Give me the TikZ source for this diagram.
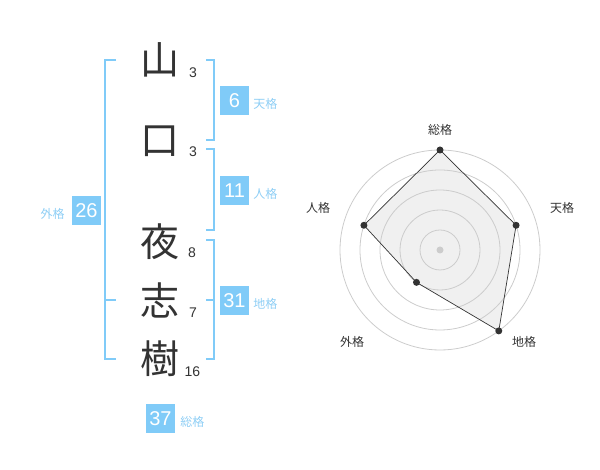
\documentclass[tikz,border=0pt]{standalone}
\usepackage{fontspec}
\setmainfont{Liberation Sans}
\newfontfamily\jp{Noto Sans CJK JP}
\usetikzlibrary{positioning}

\definecolor{boxblue}{HTML}{80CBF8}
\definecolor{lblblue}{HTML}{8ECEF5}
\definecolor{ink}{HTML}{333333}
\definecolor{ringgray}{HTML}{CCCCCC}
\definecolor{webfill}{HTML}{F0F0F0}

\begin{document}
\begin{tikzpicture}[x=1pt, y=1pt,
    kanji/.style={text=ink, inner sep=0, font=\jp\fontsize{39}{39}\selectfont},
    strokes/.style={text=ink, inner sep=0, font=\fontsize{14}{14}\selectfont},
    score/.style={fill=boxblue, text=white, inner sep=0, minimum size=29pt, font=\fontsize{20}{20}\selectfont},
    lbl/.style={text=lblblue, inner sep=0, font=\jp\fontsize{12}{12}\selectfont},
    bracket/.style={draw=boxblue, line width=2pt},
    ringline/.style={draw=ringgray, line width=0.8pt},
    axis/.style={text=ink, inner sep=0, font=\jp\fontsize{12}{12}\selectfont},
    dot/.style={circle, fill=ink, inner sep=0, minimum size=7pt}]

    \useasboundingbox (0,0) rectangle (600,470);

    % Name column
    \node[kanji] (c1) at (160,410) {山};
    \node[kanji] (c2) at (160,329) {口};
    \node[kanji] (c3) at (160,228) {夜};
    \node[kanji] (c4) at (160,170) {志};
    \node[kanji] (c5) at (160,111) {樹};

    % Stroke counts
    \node[strokes] (s1) at (193,397) {3};
    \node[strokes] (s2) at (193,318) {3};
    \node[strokes] (s3) at (192,217) {8};
    \node[strokes] (s4) at (193,157) {7};
    \node[strokes] (s5) at (192.5,98) {16};

    % Brackets
    \draw[bracket] (116,410) -- (105,410) -- (105,111) -- (116,111);
    \draw[bracket] (105,170) -- (116,170);
    \draw[bracket] (206,410) -- (214,410) -- (214,330) -- (206,330);
    \draw[bracket] (206,321) -- (214,321) -- (214,240) -- (206,240);
    \draw[bracket] (206,230) -- (214,230) -- (214,111) -- (206,111);
    \draw[bracket] (206,170) -- (214,170);

    % Score boxes
    \node[score] (b6) at (234.5,369.5) {6};
    \node[score] (b11) at (234.5,279.5) {11};
    \node[score] (b31) at (234.5,169.5) {31};
    \node[score] (b26) at (86.5,259.5) {26};
    \node[score] (b37) at (160.5,51) {37};

    \node[lbl, right=4pt of b6, yshift=-3.5pt] (l6) {天格};
    \node[lbl, right=4pt of b11, yshift=-3.5pt] (l11) {人格};
    \node[lbl, right=4pt of b31, yshift=-3.5pt] (l31) {地格};
    \node[lbl, left=7pt of b26, yshift=-3.5pt] (l26) {外格};
    \node[lbl, right=5pt of b37, yshift=-3pt] (l37) {総格};

    % Radar chart
    \coordinate (o) at (440,220);
    \begin{scope}[shift={(o)}]
        \coordinate (w1) at (90:100);
        \coordinate (w2) at (18:80);
        \coordinate (w3) at (-54:100);
        \coordinate (w4) at (-126:40);
        \coordinate (w5) at (162:80);
        \node[axis] (a1) at (0,120) {総格};
        \node[axis] (a2) at (122,42) {天格};
        \node[axis] (a3) at (84,-92) {地格};
        \node[axis] (a4) at (-88,-92) {外格};
        \node[axis] (a5) at (-122,42) {人格};
    \end{scope}

    \fill[webfill] (w1) -- (w2) -- (w3) -- (w4) -- (w5) -- cycle;
    \foreach \r in {20,40,60,80,100}
        \draw[ringline] (o) circle[radius=\r pt];
    \draw[ink, line width=0.7pt] (w1) -- (w2) -- (w3) -- (w4) -- (w5) -- cycle;
    \foreach \w in {1,...,5}
        \node[dot] (d\w) at (w\w) {};
    \node[dot, fill=ringgray] (d0) at (o) {};

\end{tikzpicture}
\end{document}
